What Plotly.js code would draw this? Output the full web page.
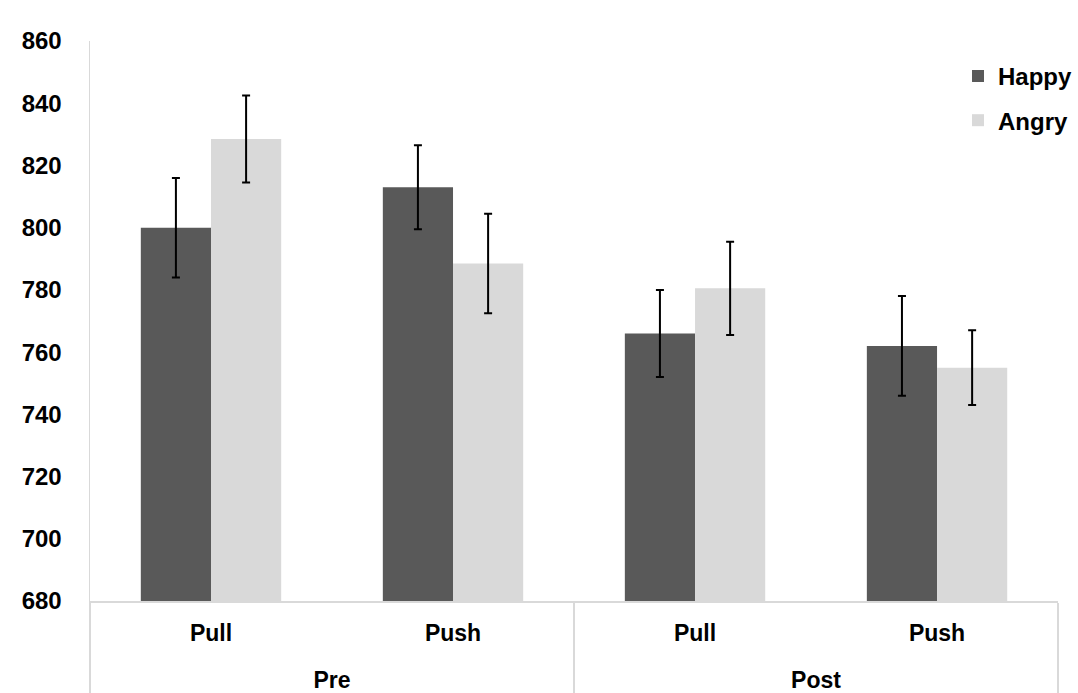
<!DOCTYPE html>
<html>
<head>
<meta charset="utf-8">
<script src="https://cdn.plot.ly/plotly-3.0.1.min.js"></script>
<style>html,body{margin:0;padding:0;background:#fff;}#chart{width:1078px;height:693px;}</style>
</head>
<body>
<div id="chart"></div>
<script>
const phases = ["Pre", "Pre", "Post", "Post"];
const actions = ["Pull", "Push", "Pull", "Push"];
const happy = [800, 813, 766, 762];
const happyErr = [16, 13.5, 14, 16];
const angry = [828.5, 788.5, 780.5, 755];
const angryErr = [14, 16, 15, 12];

const FONT = "Liberation Sans, Arial, sans-serif";
// leading line break only lowers the group labels to a second row
const phaseLabels = phases.map(p => "<br>" + p);

const traces = [
  {type: "bar", name: "Happy", legendgroup: "h", x: [phaseLabels, actions], y: happy,
   marker: {color: "#595959"},
   error_y: {type: "data", array: happyErr, visible: true, color: "#000", thickness: 2, width: 4}},
  {type: "bar", name: "Angry", legendgroup: "a", x: [phaseLabels, actions], y: angry,
   marker: {color: "#d9d9d9"},
   error_y: {type: "data", array: angryErr, visible: true, color: "#000", thickness: 2, width: 4}}
];

const layout = {
  width: 1078, height: 693,
  margin: {l: 90, r: 0, t: 41, b: 92},
  paper_bgcolor: "#fff", plot_bgcolor: "#fff",
  font: {family: FONT, color: "#000"},
  barmode: "group", bargap: 0.42, bargroupgap: 0,
  showlegend: true,
  legend: {x: 0.999, xanchor: "right", y: 0.977, yanchor: "top", bgcolor: "rgba(0,0,0,0)",
           font: {size: 24, family: FONT, weight: "bold"},
           itemwidth: 30, tracegroupgap: 10},
  xaxis: {type: "multicategory", domain: [0, 0.9798], showline: true, linecolor: "#d9d9d9", linewidth: 1.5,
          ticks: "", showgrid: false, showdividers: true, dividercolor: "#d9d9d9", dividerwidth: 1.5,
          ticklabelstandoff: 11,
          tickfont: {size: 23, family: FONT, weight: "bold"},
          automargin: false},
  yaxis: {range: [680, 860], dtick: 20, tick0: 680, showgrid: false, zeroline: false,
          showline: true, linecolor: "#d9d9d9", linewidth: 1.5, ticks: "",
          ticklabelstandoff: 22,
          tickfont: {size: 24, family: FONT, weight: "bold"},
          automargin: false}
};

Plotly.newPlot("chart", traces, layout, {displayModeBar: false, staticPlot: true});
</script>
</body>
</html>
